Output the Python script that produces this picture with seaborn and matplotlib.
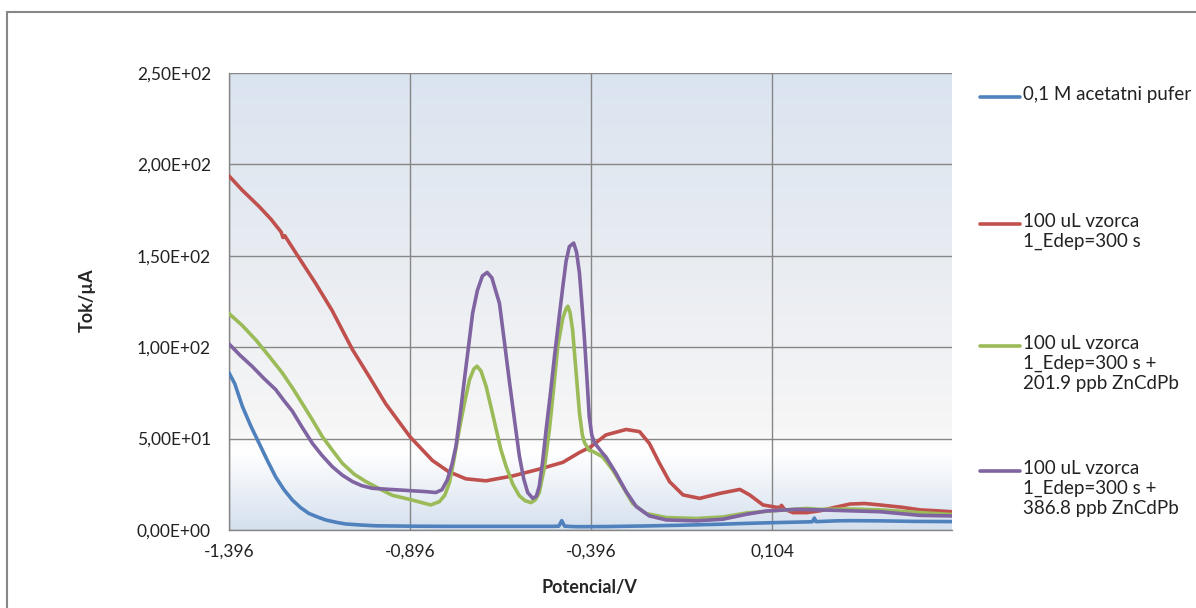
import numpy as np
import pandas as pd
import seaborn as sns
import matplotlib.pyplot as plt
from matplotlib.colors import LinearSegmentedColormap
from matplotlib.lines import Line2D
from matplotlib.patches import Rectangle
from matplotlib.ticker import FuncFormatter, MultipleLocator, FixedLocator

# --- DATA ---
blue_x = [-1.396, -1.38, -1.359, -1.336, -1.313, -1.29, -1.267, -1.244, -1.221, -1.198,
          -1.175, -1.15, -1.129, -1.10, -1.074, -1.03, -0.991, -0.9, -0.8, -0.7, -0.6,
          -0.5, -0.485, -0.477, -0.469, -0.45, -0.428, -0.35, -0.25, -0.15, -0.05, 0.03,
          0.104, 0.17, 0.215, 0.221, 0.225, 0.23, 0.28, 0.32, 0.40, 0.50, 0.60]
blue_y = [86, 80, 67.6, 57, 47.5, 38, 29, 22, 16.4, 12.2,
          9, 7, 5.5, 4.2, 3.3, 2.7, 2.3, 2.1, 2.0, 2.0, 2.0,
          2.0, 2.1, 5.1, 2.1, 1.9, 1.8, 1.9, 2.2, 2.6, 3.1, 3.6,
          4.0, 4.3, 4.5, 6.5, 4.6, 4.6, 5.0, 5.1, 5.0, 4.7, 4.6]

red_x = [-1.396, -1.36, -1.313, -1.28, -1.252, -1.247, -1.242, -1.203, -1.157, -1.111,
         -1.055, -1.009, -0.963, -0.896, -0.834, -0.79, -0.742, -0.686, -0.612, -0.539,
         -0.474, -0.428, -0.396, -0.355, -0.299, -0.262, -0.235, -0.207, -0.179, -0.142,
         -0.096, -0.041, 0.015, 0.042, 0.079, 0.116, 0.126, 0.130, 0.134, 0.139,
         0.162, 0.199, 0.236, 0.28, 0.319, 0.36, 0.402, 0.46, 0.513, 0.56, 0.60]
red_y = [193.7, 186, 177, 170, 163, 160, 161, 149, 135, 120,
         98.7, 84, 69, 51, 38, 32, 28, 26.9, 29.6, 33.3,
         37, 42.4, 45.6, 52, 55, 53.8, 47.4, 36.5, 26.4, 19.2,
         17.3, 20, 22.2, 19.2, 13.7, 12.4, 12.4, 13.5, 12.4, 11.3,
         9.5, 9.5, 10.5, 12.5, 14.2, 14.5, 13.7, 12.5, 11, 10.5, 10]

green_x = [-1.396, -1.36, -1.322, -1.285, -1.249, -1.22, -1.193, -1.165, -1.138, -1.11,
           -1.083, -1.05, -1.018, -0.98, -0.945, -0.89, -0.839, -0.815, -0.800, -0.787,
           -0.775, -0.760, -0.746, -0.732, -0.72, -0.711, -0.70, -0.686, -0.672, -0.658,
           -0.645, -0.631, -0.612, -0.594, -0.578, -0.562, -0.55, -0.539, -0.525, -0.511,
           -0.50, -0.488, -0.474, -0.465, -0.460, -0.454, -0.447, -0.438, -0.428, -0.42,
           -0.414, -0.401, -0.391, -0.364, -0.336, -0.308, -0.281, -0.244, -0.188, -0.105,
           -0.032, 0.033, 0.107, 0.199, 0.236, 0.319, 0.402, 0.513, 0.60]
green_y = [118.4, 112, 104, 95, 86, 77.5, 69, 60, 51, 43.5,
           36.5, 30.5, 26.5, 22.5, 19, 16.4, 13.7, 15.5, 19, 26,
           38, 55, 69, 82, 88, 89.6, 87, 78.7, 67, 55,
           44, 35, 25, 18.7, 16, 15, 16.5, 20.5, 34, 55,
           76, 100.5, 116, 121, 122.4, 119, 109.6, 88, 64, 52,
           47.8, 43.5, 43, 40, 32.8, 23.6, 14.5, 9, 6.8, 6.3,
           7.1, 9.3, 10.5, 11.8, 11.3, 11.5, 11, 9.5, 8.5]

purple_x = [-1.396, -1.365, -1.332, -1.30, -1.267, -1.245, -1.221, -1.195, -1.166, -1.14,
            -1.111, -1.083, -1.055, -1.03, -1.0, -0.926, -0.853, -0.825, -0.808, -0.793,
            -0.78, -0.769, -0.757, -0.746, -0.734, -0.723, -0.71, -0.696, -0.683, -0.67,
            -0.649, -0.636, -0.622, -0.608, -0.594, -0.582, -0.571, -0.557, -0.547, -0.539,
            -0.53, -0.520, -0.508, -0.497, -0.485, -0.474, -0.465, -0.456, -0.444, -0.436,
            -0.428, -0.421, -0.414, -0.407, -0.401, -0.394, -0.387, -0.364, -0.355, -0.327,
            -0.299, -0.271, -0.235, -0.188, -0.105, -0.032, 0.033, 0.088, 0.171, 0.236,
            0.319, 0.402, 0.513, 0.60]
purple_y = [101.8, 95.5, 89.5, 83, 76.8, 71, 65, 56.5, 47.5, 41,
            34.7, 30, 26.5, 24.3, 22.8, 21.9, 21, 20.5, 22, 27.4,
            36, 46, 64, 82, 101, 118.7, 131, 139, 140.9, 138,
            124, 104, 82, 61, 40.5, 28, 20.5, 17.3, 18.5, 24,
            37, 55, 75, 95, 115, 133, 147, 155, 157, 152,
            140.5, 123, 104, 82, 62, 52, 47.8, 42, 40, 31,
            21, 12.8, 7.7, 5.5, 5.0, 5.9, 8.6, 10.4, 11.3, 11,
            10.5, 10, 8, 7.7]

labels = ["0,1 M acetatni pufer",
          "100 uL vzorca\n1_Edep=300 s",
          "100 uL vzorca\n1_Edep=300 s +\n201.9 ppb ZnCdPb",
          "100 uL vzorca\n1_Edep=300 s +\n386.8 ppb ZnCdPb"]
colors = ["#4F81BD", "#C0504D", "#9BBB59", "#8064A2"]
xticks = [-1.396, -0.896, -0.396, 0.104]
xticklabels = ["-1,396", "-0,896", "-0,396", "0,104"]

series = [(blue_x, blue_y), (red_x, red_y), (green_x, green_y), (purple_x, purple_y)]

# --- STYLE ---
sns.set_style("white")
plt.rcParams["font.family"] = ["Lato", "DejaVu Sans"]

fig = plt.figure(figsize=(11.96, 6.08), dpi=100)
ax = fig.add_axes([229 / 1196, 1 - 530 / 608, 723 / 1196, 457 / 608])

# outer chart border
fig.add_artist(Rectangle((7 / 1196, -0.05), 1.2, 0.05 + 1 - 12 / 608,
                         transform=fig.transFigure, fill=False,
                         edgecolor="#878787", linewidth=1.5))

xmin, xmax = -1.396, 0.601
ymin, ymax = 0, 250

# gradient background of the plot area
cmap = LinearSegmentedColormap.from_list(
    "bg", [(0.0, "#D5E0EE"), (0.17, "#FFFFFF"), (0.22, "#F6F6F6"),
           (0.55, "#EAEDF2"), (1.0, "#DAE4F0")])
grad = np.linspace(0, 1, 256).reshape(-1, 1)
ax.imshow(grad, extent=[xmin, xmax, ymin, ymax], origin="lower", aspect="auto",
          cmap=cmap, zorder=0)

for (xs, ys), c in zip(series, colors):
    df = pd.DataFrame({"x": xs, "y": ys})
    sns.lineplot(data=df, x="x", y="y", ax=ax, color=c, linewidth=2.6,
                 estimator=None, sort=False, zorder=3)

ax.set_xlim(xmin, xmax)
ax.set_ylim(ymin, ymax)

ax.xaxis.set_major_locator(FixedLocator(xticks))
ax.set_xticklabels(xticklabels)
ax.xaxis.set_minor_locator(FixedLocator(np.round(np.arange(-1.396, 0.61, 0.1), 3)))
ax.yaxis.set_major_locator(MultipleLocator(50))
ax.yaxis.set_minor_locator(MultipleLocator(10))
ax.yaxis.set_major_formatter(FuncFormatter(lambda v, p: f"{v:.2E}".replace(".", ",")))

ax.tick_params(which="both", direction="out", color="#868686", length=5, width=1)
ax.tick_params(which="major", labelsize=12.5, labelcolor="#222222")
ax.tick_params(axis="y", which="major", pad=8)
ax.tick_params(axis="x", which="major", pad=5)
ax.grid(True, which="major", color="#868686", linewidth=1)
ax.set_axisbelow(False)
for s in ["top", "right"]:
    ax.spines[s].set_visible(False)
for s in ["left", "bottom"]:
    ax.spines[s].set_color("#868686")
    ax.spines[s].set_linewidth(1)

ax.set_xlabel("Potencial/V", fontsize=13, fontweight="bold")
ax.set_ylabel("Tok/µA", fontsize=13, fontweight="bold")
ax.xaxis.set_label_coords(0.499, (530 - 579) / 457)
ax.yaxis.set_label_coords((96 - 229) / 723, 0.503)

# legend, Excel style: marker next to the first text line
legend_top = [97, 224, 346, 471]
for lab, c, yp in zip(labels, colors, legend_top):
    yf = 1 - yp / 608
    fig.add_artist(Line2D([980 / 1196, 1020 / 1196], [yf, yf],
                          transform=fig.transFigure, color=c, linewidth=2.6))
    fig.text(1023 / 1196, yf + 11 / 608, lab, fontsize=13.5, va="top", ha="left",
             color="#222222", linespacing=1.2)

plt.savefig("out.png", dpi=100)
